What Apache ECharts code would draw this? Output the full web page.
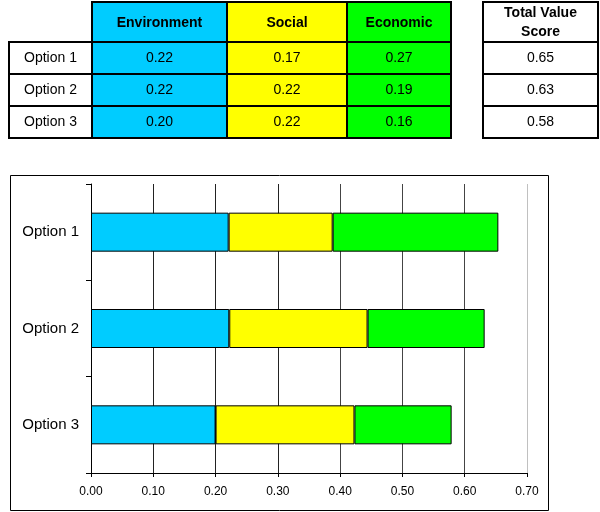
<!DOCTYPE html>
<html>
<head>
<meta charset="utf-8">
<style>
  html, body { margin: 0; padding: 0; background: #fff; }
  #chart { width: 600px; height: 512px; }
</style>
<script src="https://cdn.jsdelivr.net/npm/echarts@6/dist/echarts.min.js"></script>
</head>
<body>
<div id="chart"></div>
<script>
// Criteria scores per option
const categories = ['Option 1', 'Option 2', 'Option 3'];
const criteria = ['Environment', 'Social', 'Economic'];
const environment = [0.221, 0.222, 0.200];
const social = [0.167, 0.222, 0.223];
const economic = [0.266, 0.188, 0.156];
const xTicks = [0, 0.1, 0.2, 0.3, 0.4, 0.5, 0.6, 0.7];

const colors = ['#00CCFF', '#FFFF00', '#00FF00'];
const FONT = '"Liberation Sans", Arial, sans-serif';

const seriesValues = [environment, social, economic];
const totals = categories.map((_, i) => environment[i] + social[i] + economic[i]);

// Score table drawn above the chart
const colX = [9, 92, 227, 347, 451];      // label | env | social | econ edges
const totX = [483, 598];                  // total column edges
const rowY = [2, 42, 74, 106, 138];       // header | rows edges
const graphics = [];

function cell(x0, y0, x1, y1, fill, text, bold) {
  graphics.push({
    type: 'rect', z: 10,
    shape: { x: x0, y: y0, width: x1 - x0, height: y1 - y0 },
    style: { fill: fill, stroke: '#000', lineWidth: 2 }
  });
  graphics.push({
    type: 'text', z: 11,
    x: (x0 + x1) / 2, y: (y0 + y1) / 2 + (bold ? 1 : 0),
    style: {
      text: text, align: 'center', verticalAlign: 'middle',
      font: (bold ? 'bold 14px ' : '14px ') + FONT, fill: '#000',
      lineHeight: 19
    }
  });
}

criteria.forEach((name, c) => {
  cell(colX[c + 1], rowY[0], colX[c + 2], rowY[1], colors[c], name, true);
});
cell(totX[0], rowY[0], totX[1], rowY[1], '#fff', 'Total Value\nScore', true);
categories.forEach((cat, r) => {
  cell(colX[0], rowY[r + 1], colX[1], rowY[r + 2], '#fff', cat, false);
  seriesValues.forEach((vals, c) => {
    cell(colX[c + 1], rowY[r + 1], colX[c + 2], rowY[r + 2], colors[c], vals[r].toFixed(2), false);
  });
  cell(totX[0], rowY[r + 1], totX[1], rowY[r + 2], '#fff', totals[r].toFixed(2), false);
});

// Frame around the chart
graphics.push({
  type: 'rect', z: 0,
  shape: { x: 10.5, y: 175.5, width: 538, height: 335 },
  style: { fill: 'none', stroke: '#000', lineWidth: 1 }
});

const chart = echarts.init(document.getElementById('chart'), null, { renderer: 'canvas' });
chart.setOption({
  animation: false,
  backgroundColor: '#fff',
  textStyle: { fontFamily: FONT },
  graphic: graphics,
  grid: { left: 91, right: 73, top: 184, bottom: 39, containLabel: false },
  xAxis: {
    type: 'value',
    min: xTicks[0], max: xTicks[xTicks.length - 1], interval: 0.1,
    axisLine: { show: true, lineStyle: { color: '#000', width: 1 } },
    axisTick: { show: true, length: 4, lineStyle: { color: '#000' } },
    axisLabel: {
      color: '#000', fontSize: 12, margin: 13, fontFamily: FONT,
      formatter: v => v.toFixed(2)
    },
    splitLine: {
      show: true,
      lineStyle: { color: ['#000', '#222', '#222', '#222', '#444', '#444', '#444', '#c0c0c0'], width: 1 }
    }
  },
  yAxis: {
    type: 'category', data: categories, inverse: true,
    axisLine: { show: true, lineStyle: { color: '#000', width: 1 } },
    axisTick: { show: true, length: 5, lineStyle: { color: '#000' } },
    axisLabel: { color: '#000', fontSize: 15, margin: 12, fontFamily: FONT },
    splitLine: { show: false }
  },
  series: criteria.map((name, c) => ({
    name: name, type: 'bar', stack: 'total', barWidth: 39,
    data: seriesValues[c],
    itemStyle: { color: colors[c], borderColor: '#000', borderWidth: 1 },
    z: 3
  }))
});
</script>
</body>
</html>
